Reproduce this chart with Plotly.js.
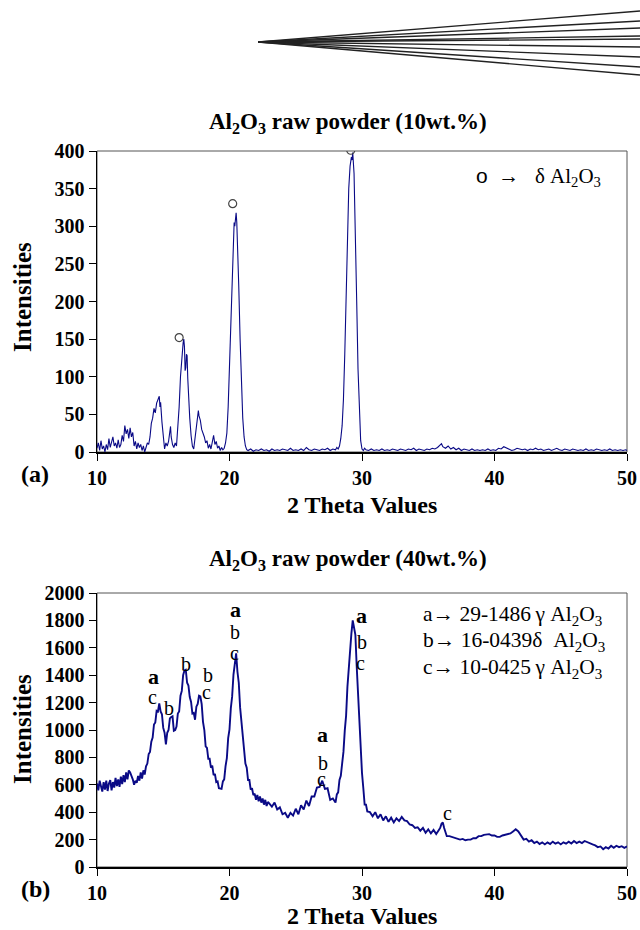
<!DOCTYPE html>
<html>
<head>
<meta charset="utf-8">
<script src="https://cdn.plot.ly/plotly-3.0.1.min.js"></script>
<style>html,body{margin:0;padding:0;background:#fff;}#chart{width:640px;height:930px;}</style>
</head>
<body>
<div id="chart"></div>
<script>
// ---- Panel (a): Al2O3 raw powder (10wt.%) ----
const thetaA = [10.0,10.1,10.2,10.3,10.4,10.5,10.6,10.7,10.8,10.9,11.0,11.1,11.2,11.3,11.4,11.5,11.6,11.7,11.8,11.9,
12.0,12.1,12.2,12.3,12.4,12.5,12.6,12.7,12.8,12.9,13.0,13.1,13.2,13.3,13.4,13.5,13.6,13.7,13.8,13.9,
14.0,14.1,14.2,14.3,14.4,14.5,14.6,14.7,14.75,14.8,14.9,15.0,15.1,15.2,15.3,15.4,15.5,15.55,15.6,15.7,15.8,15.9,
16.0,16.1,16.2,16.3,16.4,16.5,16.55,16.6,16.65,16.7,16.75,16.8,16.85,16.9,17.0,17.1,17.2,17.3,17.4,17.5,17.6,17.65,17.7,17.8,17.9,
18.0,18.1,18.2,18.3,18.4,18.5,18.6,18.7,18.8,18.9,19.0,19.1,19.2,19.3,19.4,19.5,19.6,19.7,19.8,19.9,
20.0,20.1,20.2,20.3,20.35,20.4,20.45,20.5,20.55,20.6,20.7,20.8,20.9,21.0,21.1,21.2,21.3,21.4,21.6,21.8,
22.0,22.2,22.4,22.6,22.8,23.0,23.2,23.4,23.6,23.8,24.0,24.2,24.4,24.6,24.8,25.0,25.2,25.4,25.6,25.8,
26.0,26.2,26.4,26.6,26.8,27.0,27.2,27.4,27.6,27.8,28.0,28.1,28.2,28.3,28.4,28.5,28.6,28.7,28.8,28.9,
29.0,29.1,29.2,29.25,29.3,29.4,29.5,29.6,29.7,29.8,29.9,30.0,30.1,30.2,30.3,30.5,30.7,30.9,31.1,31.3,
31.5,31.7,31.9,32.1,32.3,32.5,32.7,32.9,33.1,33.3,33.5,33.7,33.9,34.1,34.3,34.5,34.7,34.9,35.1,35.3,
35.5,35.7,35.9,36.0,36.1,36.3,36.5,36.7,36.9,37.1,37.3,37.5,37.7,37.9,38.1,38.3,38.5,38.7,38.9,39.1,
39.3,39.5,39.7,39.9,40.1,40.3,40.5,40.7,40.9,41.1,41.3,41.5,41.7,41.9,42.1,42.3,42.5,42.7,42.9,43.1,
43.3,43.5,43.7,43.9,44.1,44.3,44.5,44.7,44.9,45.1,45.3,45.5,45.7,45.9,46.1,46.3,46.5,46.7,46.9,47.1,
47.3,47.5,47.7,47.9,48.1,48.3,48.5,48.7,48.9,49.1,49.3,49.5,49.7,49.9,50.0];
const intensA = [5,12,2,15,4,8,0,10,3,18,6,14,20,8,12,5,16,6,10,22,
14,35,24,30,18,32,20,26,8,14,4,12,6,10,2,8,0,6,12,10,
20,38,45,58,52,65,70,74,60,66,40,20,4,12,8,14,30,34,20,10,6,12,
8,30,60,100,128,145,150,140,108,112,130,128,98,75,45,22,8,4,18,35,50,55,48,42,30,
25,20,12,15,5,10,4,12,22,10,14,5,8,2,6,3,5,12,25,60,
115,180,245,290,305,300,315,318,305,280,220,150,90,45,20,8,3,2,4,1,
3,2,4,2,3,1,4,2,3,2,4,3,2,5,2,3,2,4,2,6,
3,2,4,3,2,4,3,5,2,4,3,6,4,8,18,35,70,130,210,290,
350,380,392,388,398,370,300,200,110,45,15,4,2,5,3,2,4,2,3,2,
4,2,3,2,4,3,2,4,3,2,4,3,5,2,4,3,2,4,3,5,
4,6,9,11,7,5,8,4,6,3,5,2,4,3,2,4,2,3,2,3,
2,4,2,3,2,5,4,7,5,4,2,3,5,4,3,4,2,4,3,5,
3,4,2,3,4,2,3,5,3,2,4,3,2,4,3,2,3,2,4,2,
3,2,4,3,2,3,2,4,2,3,2,3,2,3,2];
// open circles marking delta-Al2O3 peaks
const deltaX = [16.2, 20.24, 29.15];
const deltaY = [152, 330, 401];

// ---- Panel (b): Al2O3 raw powder (40wt.%) ----
const thetaB = [10.0,10.1,10.2,10.3,10.4,10.5,10.6,10.7,10.8,10.9,11.0,11.1,11.2,11.3,11.4,11.5,11.6,11.7,11.8,11.9,
12.0,12.1,12.2,12.3,12.4,12.5,12.6,12.7,12.8,12.9,13.0,13.1,13.2,13.3,13.4,13.5,13.6,13.7,13.8,13.9,
14.0,14.1,14.2,14.3,14.4,14.5,14.6,14.7,14.8,14.9,15.0,15.1,15.2,15.3,15.4,15.5,15.6,15.7,15.8,15.9,
16.0,16.1,16.2,16.3,16.4,16.5,16.6,16.7,16.8,16.9,17.0,17.1,17.2,17.3,17.4,17.5,17.6,17.7,17.8,17.9,
18.0,18.1,18.2,18.3,18.4,18.5,18.6,18.7,18.8,18.9,19.0,19.1,19.2,19.3,19.4,19.5,19.6,19.7,19.8,19.9,
20.0,20.1,20.2,20.3,20.4,20.5,20.6,20.7,20.8,20.9,21.0,21.1,21.2,21.3,21.4,21.5,21.6,21.7,21.8,21.9,
22.0,22.1,22.2,22.3,22.4,22.5,22.6,22.7,22.8,22.9,23.0,23.2,23.4,23.6,23.8,24.0,24.2,24.4,24.6,24.8,25.0,25.2,25.4,25.6,25.8,
26.0,26.2,26.4,26.6,26.8,27.0,27.2,27.4,27.6,27.8,28.0,28.1,28.2,28.3,28.4,28.5,28.6,28.7,28.8,28.9,
29.0,29.1,29.2,29.3,29.4,29.5,29.6,29.7,29.8,29.9,30.0,30.1,30.2,30.3,30.4,30.6,30.8,31.0,31.2,31.4,
31.6,31.8,32.0,32.2,32.4,32.6,32.8,33.0,33.2,33.4,33.6,33.8,34.0,34.2,34.4,34.6,34.8,35.0,35.2,35.4,
35.6,35.8,35.9,36.0,36.1,36.2,36.4,36.6,36.8,37.0,37.2,37.4,37.6,37.8,38.0,38.2,38.4,38.6,38.8,39.0,
39.2,39.4,39.6,39.8,40.0,40.2,40.4,40.6,40.8,41.0,41.2,41.4,41.6,41.8,42.0,42.2,42.4,42.6,42.8,43.0,
43.2,43.4,43.6,43.8,44.0,44.2,44.4,44.6,44.8,45.0,45.2,45.4,45.6,45.8,46.0,46.2,46.4,46.6,46.8,47.0,
47.2,47.4,47.6,47.8,48.0,48.2,48.4,48.6,48.8,49.0,49.2,49.4,49.6,49.8,50.0];
const intensB = [610,560,630,575,550,620,565,630,555,610,635,560,620,580,650,590,640,585,660,605,
670,620,690,640,705,690,670,640,600,630,615,665,630,690,645,705,675,735,755,825,
840,915,945,1040,1055,1140,1135,1195,1135,1115,1015,980,895,980,1000,1085,1095,1100,995,1000,
1025,1120,1135,1250,1285,1400,1435,1440,1345,1325,1240,1205,1120,1125,1075,1170,1190,1250,1245,1190,
1060,1000,880,870,790,790,725,740,670,680,620,625,575,575,570,625,640,735,795,940,
1005,1160,1245,1405,1485,1560,1425,1345,1165,1075,935,875,755,725,635,635,565,575,525,535,
490,525,480,515,470,500,455,490,445,475,460,440,470,420,435,385,395,360,395,375,425,385,450,420,485,
445,515,515,580,585,630,570,575,490,500,470,530,545,635,665,755,840,995,1105,1315,
1465,1635,1705,1800,1730,1695,1465,1275,1005,865,685,575,455,455,405,400,370,400,355,385,
340,370,330,360,325,355,335,365,340,335,310,305,285,290,265,285,250,275,245,270,
240,270,285,315,325,285,225,225,220,210,210,200,205,195,200,200,210,210,225,225,
235,235,240,230,230,220,220,230,235,240,245,260,275,260,230,200,205,185,195,175,
185,168,180,165,180,168,185,170,180,165,180,170,185,172,190,175,185,175,190,180,
172,165,158,145,150,130,145,135,155,140,155,145,152,140,150];

// phase labels on panel (b)
const labelX = [14.23, 20.42, 27.03, 29.98, 14.2, 15.46, 16.72, 18.35, 18.28, 20.42, 20.37, 27.03, 26.98, 29.98, 29.9, 36.44];
const labelY = [1387, 1876, 964, 1839, 1241, 1160, 1482, 1401, 1280, 1718, 1564, 761, 640, 1645, 1487, 392];
const labelText = ['a','a','a','a','c','b','b','b','c','b','c','b','c','b','c','c'];

const xTicks = [10, 20, 30, 40, 50];
const yTicksA = [0, 50, 100, 150, 200, 250, 300, 350, 400];
const yTicksB = [0, 200, 400, 600, 800, 1000, 1200, 1400, 1600, 1800, 2000];
const legendB = ['a\u2192 29-1486\u2009\u03B3 Al<sub>2</sub>O<sub>3</sub>',
                 'b\u2192 16-0439\u03B4&nbsp;&nbsp;Al<sub>2</sub>O<sub>3</sub>',
                 'c\u2192 10-0425\u2009\u03B3 Al<sub>2</sub>O<sub>3</sub>'];

// ---- layout helpers ----
const W = 640, H = 930;
const px = v => v / W;
const py = v => 1 - v / H;
const serif = "'Liberation Serif', 'Times New Roman', serif";
const navy = '#0a0a86';

const traces = [
  {x: thetaA, y: intensA, xaxis: 'x', yaxis: 'y', type: 'scatter', mode: 'lines',
   line: {color: navy, width: 1.1}, hoverinfo: 'skip'},
  {x: deltaX, y: deltaY, xaxis: 'x', yaxis: 'y', type: 'scatter', mode: 'markers',
   marker: {symbol: 'circle-open', size: 8, color: '#444', line: {width: 1.2, color: '#444'}}, hoverinfo: 'skip'},
  {x: thetaB, y: intensB, xaxis: 'x2', yaxis: 'y2', type: 'scatter', mode: 'lines',
   line: {color: navy, width: 1.9}, hoverinfo: 'skip'}
];

function xAxis(anchor) {
  return {domain: [px(97), px(627)], range: [10, 50], anchor: anchor, tickvals: xTicks,
    ticks: 'outside', ticklen: 7, tickwidth: 1, tickcolor: '#000',
    showline: true, linecolor: '#000', linewidth: 1.5, showgrid: false, zeroline: false,
    tickfont: {family: serif, size: 20, color: '#000', weight: 'bold'}, fixedrange: true};
}
function yAxis(anchor, dom, rng, tv) {
  return {domain: dom, range: rng, anchor: anchor, tickvals: tv,
    ticks: 'outside', ticklen: 7, tickwidth: 1, tickcolor: '#000',
    showline: true, linecolor: '#000', linewidth: 1.5, showgrid: false, zeroline: false,
    tickfont: {family: serif, size: 20, color: '#000', weight: 'bold'}, fixedrange: true};
}

const annotations = [];
function txt(x, y, text, size, opts) {
  annotations.push(Object.assign({xref: 'paper', yref: 'paper', x: x, y: y, text: text, showarrow: false,
    font: {family: serif, size: size, color: '#000'}, xanchor: 'center', yanchor: 'middle'}, opts || {}));
}
// titles
txt(px(348), py(123), '<b>Al<sub>2</sub>O<sub>3</sub> raw powder (10wt.%)</b>', 23);
txt(px(348), py(560), '<b>Al<sub>2</sub>O<sub>3</sub> raw powder (40wt.%)</b>', 23);
txt(px(362), py(505), '<b>2 Theta Values</b>', 24);
txt(px(362), py(916), '<b>2 Theta Values</b>', 24);
txt(px(22), py(297), '<b>Intensities</b>', 25, {textangle: -90});
txt(px(22), py(729), '<b>Intensities</b>', 25, {textangle: -90});
txt(px(35), py(474), '<b>(a)</b>', 24);
txt(px(35), py(889), '<b>(b)</b>', 24);
// legend of panel (a)
txt(px(474), py(177), '<span style="font-family:Liberation Sans">o</span>&nbsp;&nbsp;\u2192&nbsp;&nbsp;&nbsp;\u03B4 Al<sub>2</sub>O<sub>3</sub>', 21, {xanchor: 'left'});
// legend of panel (b)
legendB.forEach((t, i) => txt(px(421), py(615 + i * 26.7), t, 21.5, {xanchor: 'left'}));
// phase letters
labelText.forEach((t, i) => {
  annotations.push({xref: 'x2', yref: 'y2', x: labelX[i], y: labelY[i], showarrow: false,
    text: t === 'a' ? '<b>a</b>' : t, xanchor: 'center', yanchor: 'middle',
    font: {family: serif, size: t === 'a' ? 22 : 20, color: '#000'}});
});

// decorative fan of lines at the top
const fanApex = [258, 42];
const fanEndsY = [11, 21, 28, 36, 39, 47, 57, 67, 75];
const shapes = fanEndsY.map(e => ({type: 'line', xref: 'paper', yref: 'paper',
  x0: px(fanApex[0]), y0: py(fanApex[1]), x1: 1, y1: py(e), line: {color: '#222', width: 1.3}}));
// plot frames
['', '2'].forEach(s => shapes.push({type: 'rect', xref: 'x' + s + ' domain', yref: 'y' + s + ' domain',
  x0: 0, x1: 1, y0: 0, y1: 1, line: {color: '#555', width: 1}, layer: 'below'}));

const layout = {
  width: W, height: H, margin: {l: 0, r: 0, t: 0, b: 0},
  paper_bgcolor: '#fff', plot_bgcolor: '#fff', showlegend: false,
  xaxis: xAxis('y'),
  yaxis: yAxis('x', [py(452), py(151)], [0, 400], yTicksA),
  xaxis2: xAxis('y2'),
  yaxis2: yAxis('x2', [py(867), py(593)], [0, 2000], yTicksB),
  annotations: annotations, shapes: shapes
};

Plotly.newPlot('chart', traces, layout, {staticPlot: true, displayModeBar: false});
</script>
</body>
</html>
